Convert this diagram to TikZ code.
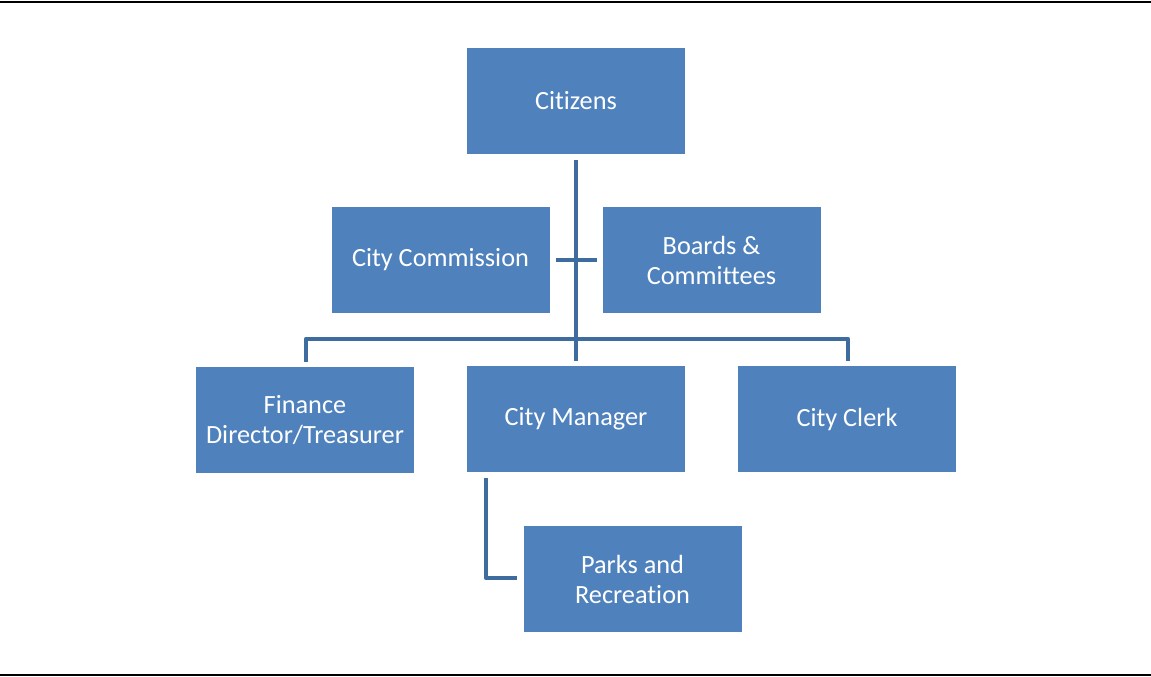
\documentclass[tikz,border=0pt]{standalone}
\usepackage{fontspec}
\setmainfont{Carlito}[Ligatures={NoCommon}]
\definecolor{boxblue}{HTML}{4F81BD}
\definecolor{linkblue}{HTML}{3F6C9F}
\begin{document}
\begin{tikzpicture}[x=1pt,y=-1pt,
  orgbox/.style={rectangle,fill=boxblue,draw=none,minimum width=218pt,minimum height=106pt,
    text=white,align=center,font=\fontsize{26.3}{30}\selectfont,inner sep=0pt},
  conn/.style={draw=linkblue,line width=4.8pt,line join=round},
  rule/.style={draw=black,line width=2pt}]
\useasboundingbox (0,0) rectangle (1151,677);
\coordinate (tl) at (0,2.5);
\coordinate (tr) at (1151,2.5);
\coordinate (bl) at (0,675);
\coordinate (br) at (1151,675);
\draw[rule] (tl) -- (tr);
\draw[rule] (bl) -- (br);
\node[orgbox] (cit) at (576,101) {Citizens};
\node[orgbox] (comm) at (440.5,260) {City Commission};
\node[orgbox] (boards) at (711.5,260) {Boards \&\\Committees};
\node[orgbox] (fin) at (305,420) {Finance\\Director/Treasurer};
\node[orgbox] (mgr) at (576,419) {City Manager};
\node[orgbox] (clerk) at (847,419) {City Clerk};
\node[orgbox] (parks) at (632.5,579) {Parks and\\Recreation};
% trunk
\draw[conn] ([yshift=-6pt]cit.south) -- ([yshift=5pt]mgr.north);
% cross
\draw[conn] ([xshift=6pt]comm.east) -- ([xshift=-5pt]boards.west);
% bus
\coordinate (busl) at (306,339);
\coordinate (busr) at (848,339);
\draw[conn] ([xshift=1pt,yshift=5pt]fin.north) -- (busl) -- (busr) -- ([xshift=1pt,yshift=5pt]clerk.north);
% parks
\coordinate (ptop) at (486,478);
\coordinate (pcorner) at (486,578);
\draw[conn] (ptop) -- (pcorner) -- ([xshift=-6pt]pcorner -| parks.west);
\end{tikzpicture}
\end{document}
